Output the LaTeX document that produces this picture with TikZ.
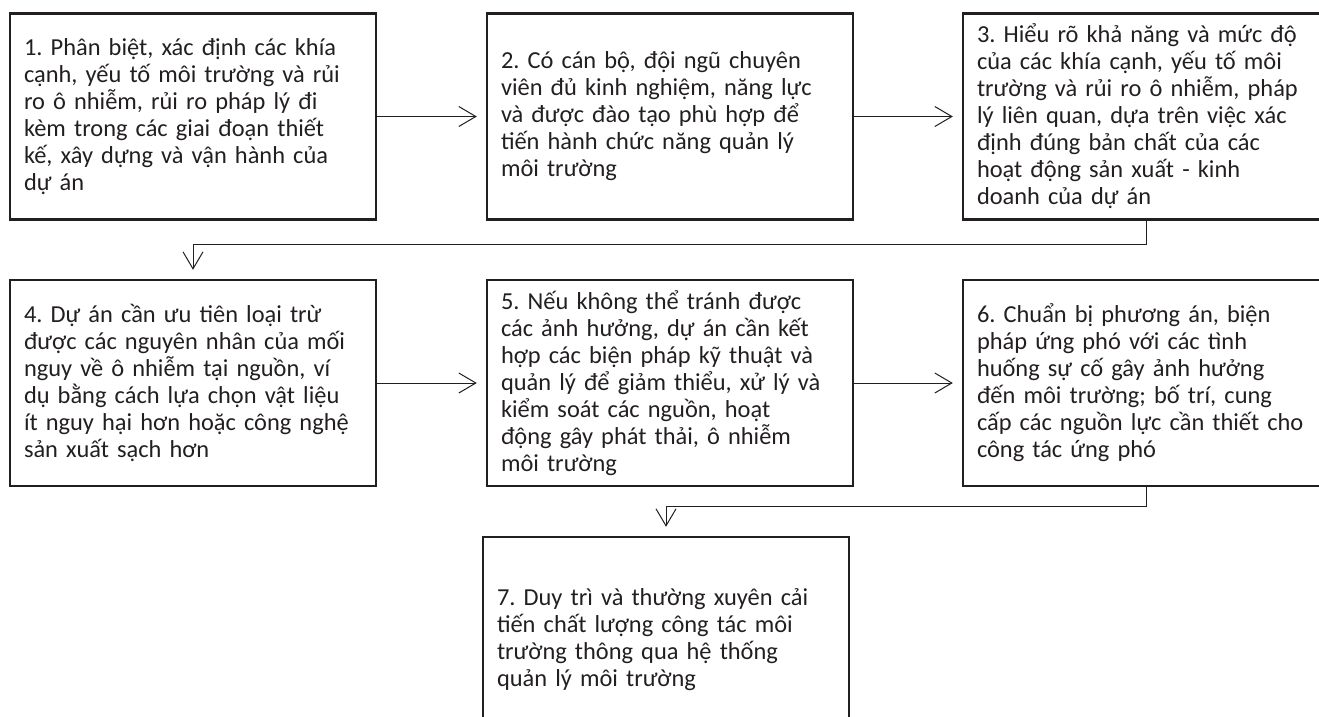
\documentclass[tikz,border=0pt]{standalone}
\usepackage{fontspec}
\setmainfont{Carlito}
\usetikzlibrary{arrows.meta}
\definecolor{ink}{HTML}{231F20}
\frenchspacing
\tikzset{
  box/.style={draw=ink, line width=2.4pt, minimum width=366pt, minimum height=206pt,
    text width=338pt, align=left, inner sep=0pt, text=ink,
    font=\fontsize{24.4}{27}\selectfont},
  arr/.style={draw=ink, line width=1pt, -{Straight Barb[length=17pt,width=20pt,line width=1pt]}}
}
\begin{document}
\begin{tikzpicture}[x=1pt,y=-1pt]
\useasboundingbox (0,0) rectangle (1319,716);
\clip (0,0) rectangle (1319,716);
\fill[white] (0,0) rectangle (1319,716);
\node[box] (b1) at (193,116.5) {1. Phân biệt, xác định các khía\\cạnh, yếu tố môi trường và rủi\\ro ô nhiễm, rủi ro pháp lý đi\\kèm trong các giai đoạn thiết\\kế, xây dựng và vận hành của\\dự án};
\node[box] (b2) at (670,116.5) {2. Có cán bộ, đội ngũ chuyên\\viên đủ kinh nghiệm, năng lực\\và được đào tạo phù hợp để\\tiến hành chức năng quản lý\\môi trường};
\node[box] (b3) at (1146,116.5) {3. Hiểu rõ khả năng và mức độ\\của các khía cạnh, yếu tố môi\\trường và rủi ro ô nhiễm, pháp\\lý liên quan, dựa trên việc xác\\định đúng bản chất của các\\hoạt động sản xuất - kinh\\doanh của dự án};
\node[box] (b4) at (193,383) {4. Dự án cần ưu tiên loại trừ\\được các nguyên nhân của mối\\nguy về ô nhiễm tại nguồn, ví\\dụ bằng cách lựa chọn vật liệu\\ít nguy hại hơn hoặc công nghệ\\sản xuất sạch hơn};
\node[box] (b5) at (670,383) {5. Nếu không thể tránh được\\các ảnh hưởng, dự án cần kết\\hợp các biện pháp kỹ thuật và\\quản lý để giảm thiểu, xử lý và\\kiểm soát các nguồn, hoạt\\động gây phát thải, ô nhiễm\\môi trường};
\node[box] (b6) at (1146,383) {6. Chuẩn bị phương án, biện\\pháp ứng phó với các tình\\huống sự cố gây ảnh hưởng\\đến môi trường; bố trí, cung\\cấp các nguồn lực cần thiết cho\\công tác ứng phó};
\node[box] (b7) at (666,640) {7. Duy trì và thường xuyên cải\\tiến chất lượng công tác môi\\trường thông qua hệ thống\\quản lý môi trường};
\draw[arr] (b1.east) -- ([xshift=-9pt]b2.west);
\draw[arr] (b2.east) -- ([xshift=-9pt]b3.west);
\draw[arr] (b4.east) -- ([xshift=-9pt]b5.west);
\draw[arr] (b5.east) -- ([xshift=-9pt]b6.west);
\coordinate (c3) at ([yshift=-24pt]b3.south);
\coordinate (c6) at ([yshift=-19pt]b6.south);
\draw[arr] (b3.south) -- (c3) -| ([yshift=9pt]b4.north);
\draw[arr] (b6.south) -- (c6) -| ([yshift=9pt]b7.north);
\end{tikzpicture}
\end{document}
